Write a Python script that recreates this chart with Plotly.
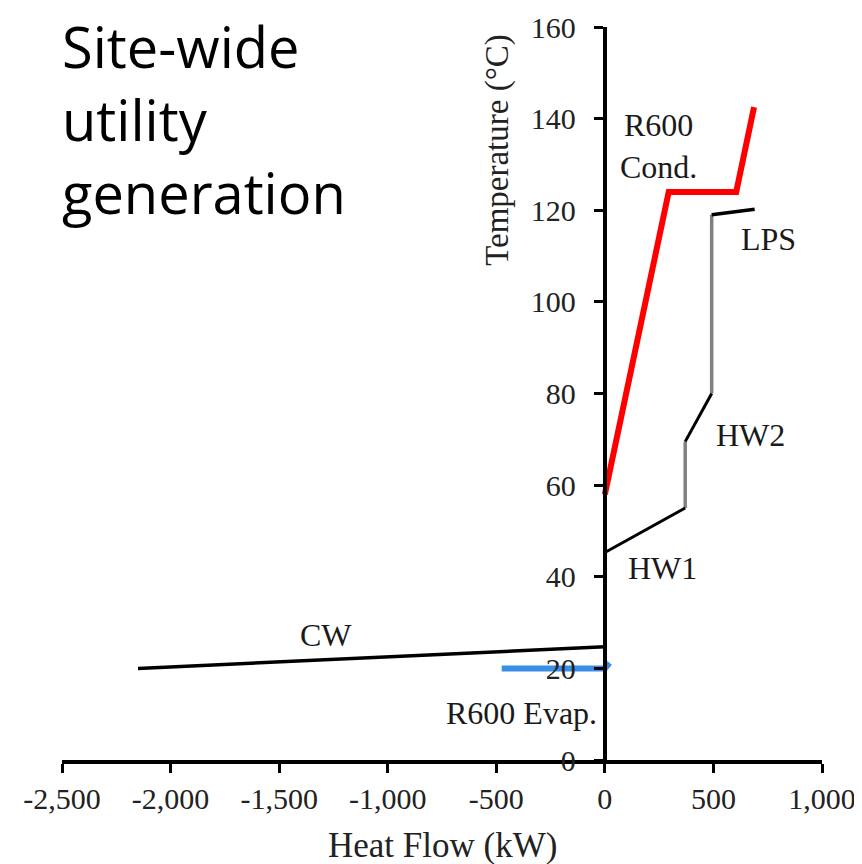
import plotly.graph_objects as go

# ---- data (kW, °C) ----
r600_cond_q = [0, 294, 605, 687]
r600_cond_t = [58, 124, 124, 142.5]

hw1_q = [0, 370]
hw1_t = [45.3, 55]
gap1_q = [370, 370]
gap1_t = [55, 69.5]
hw2_q = [370, 492]
hw2_t = [69.5, 80]
gap2_q = [492, 492]
gap2_t = [80, 119]
lps_q = [492, 690]
lps_t = [119, 120.2]

cw_q = [-2150, 0]
cw_t = [20, 24.7]

evap_q = [-475, 0, 22]
evap_t = [20, 20, 21.2]

x_ticks = [-2500, -2000, -1500, -1000, -500, 0, 500, 1000]
x_tick_labels = ["-2,500", "-2,000", "-1,500", "-1,000", "-500", "0", "500", "1,000"]
y_ticks = [0, 20, 40, 60, 80, 100, 120, 140, 160]

labels = [
    ("R600<br>Cond.", 245, 134),
    ("LPS", 755, 113.8),
    ("HW2", 672, 71),
    ("HW1", 265, 42),
    ("CW", -1285, 27.3),
    ("R600 Evap.", -385, 10.3),
]

serif = "Liberation Serif, Times New Roman, serif"

fig = go.Figure()
fig.add_trace(go.Scatter(x=cw_q, y=cw_t, mode="lines", line=dict(color="black", width=3.5)))
fig.add_trace(go.Scatter(x=gap1_q, y=gap1_t, mode="lines", line=dict(color="#808080", width=3.5)))
fig.add_trace(go.Scatter(x=gap2_q, y=gap2_t, mode="lines", line=dict(color="#808080", width=3.5)))
fig.add_trace(go.Scatter(x=hw1_q, y=hw1_t, mode="lines", line=dict(color="black", width=3)))
fig.add_trace(go.Scatter(x=hw2_q, y=hw2_t, mode="lines", line=dict(color="black", width=3)))
fig.add_trace(go.Scatter(x=lps_q, y=lps_t, mode="lines", line=dict(color="black", width=3.5)))
fig.add_trace(go.Scatter(x=r600_cond_q, y=r600_cond_t, mode="lines", line=dict(color="#ff0000", width=6)))
fig.add_trace(go.Scatter(x=evap_q, y=evap_t, mode="lines", line=dict(color="#3a8ee6", width=6)))

for txt, x, y in labels:
    fig.add_annotation(x=x, y=y, text=txt, showarrow=False,
                       font=dict(family=serif, size=32, color="#1a1a1a"))

# title block (top of figure)
fig.add_annotation(xref="paper", yref="paper", x=0.0, y=1 + 19 / 733, xanchor="left", yanchor="top",
                   text="Site-wide<br>utility<br>generation", showarrow=False, align="left",
                   borderpad=0, borderwidth=0,
                   font=dict(family="Open Sans, Noto Sans, sans-serif", size=56, color="black"))

fig.add_annotation(xref="paper", yref="paper", x=0.572, y=0.832, xanchor="center", yanchor="middle",
                   text="Temperature (°C)", textangle=-90, showarrow=False,
                   font=dict(family=serif, size=33, color="#222"))

fig.add_annotation(xref="paper", yref="paper", x=0.5, y=-0.116, xanchor="center", yanchor="middle",
                   text="Heat Flow (kW)", showarrow=False,
                   font=dict(family=serif, size=35, color="#222"))

pos = (0 - (-2500)) / (1000 - (-2500))

fig.update_layout(
    width=862, height=864,
    margin=dict(l=54, r=48, t=19, b=112),
    paper_bgcolor="white", plot_bgcolor="white",
    showlegend=False,
    xaxis=dict(range=[-2500, 1000], tickvals=x_ticks, ticktext=x_tick_labels, automargin=False,
               showgrid=False, zeroline=False, showline=True, linecolor="black", linewidth=3.5,
               ticks="outside", ticklen=9, tickwidth=3, tickcolor="black",
               tickfont=dict(family=serif, size=30, color="#222")),
    yaxis=dict(range=[0, 160], tickvals=y_ticks, anchor="free", position=pos, automargin=False,
               showgrid=False, zeroline=False, showline=True, linecolor="black", linewidth=4,
               ticks="outside", ticklen=9, tickwidth=3, tickcolor="black", ticklabelstandoff=12,
               tickfont=dict(family=serif, size=30, color="#222")),
)

fig.write_html("out.html")
